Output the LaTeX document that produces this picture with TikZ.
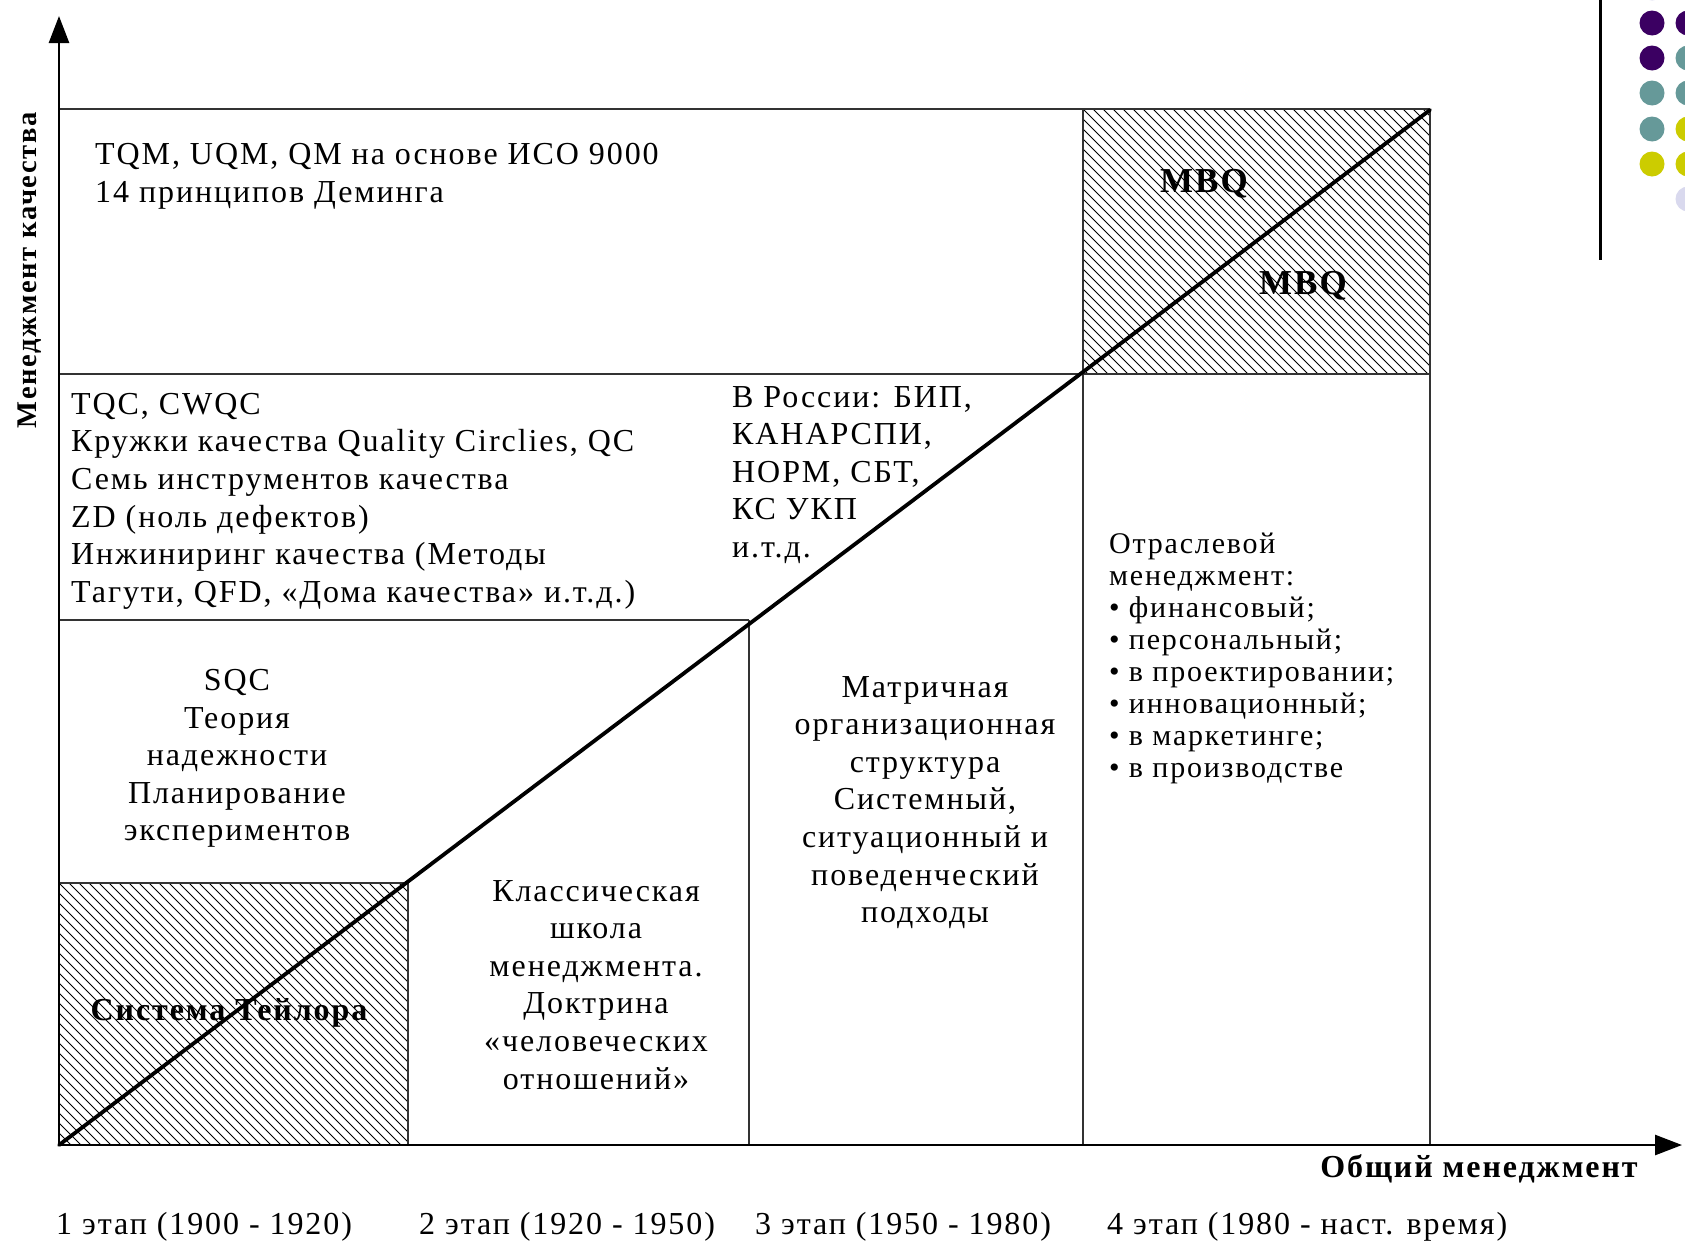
\documentclass[tikz,border=0pt]{standalone}
\usepackage{fontspec}
\setmainfont{Liberation Serif}[LetterSpace=6]
\usetikzlibrary{arrows.meta}
\definecolor{dpurple}{HTML}{3B0062}
\definecolor{dteal}{HTML}{669999}
\definecolor{dyellow}{HTML}{CCCC00}
\definecolor{dlav}{HTML}{D9D9EE}
\definecolor{gridc}{HTML}{333333}
\begin{document}
\begin{tikzpicture}[x=1pt,y=-1pt,
  txt/.style={inner sep=0pt,font=\fontsize{32}{37.6}\selectfont},
  smalltxt/.style={inner sep=0pt,font=\fontsize{30}{32}\selectfont},
  boldtxt/.style={inner sep=0pt,font=\fontsize{32}{38}\selectfont\bfseries},
  ylab/.style={inner sep=0pt,font=\fontsize{28.5}{34}\selectfont\bfseries},
  mbq/.style={inner sep=0pt,font=\fontsize{35}{40}\selectfont\bfseries},
  gridline/.style={draw=gridc,line width=2pt},
  axisline/.style={draw=black,line width=2.6pt,-{Triangle[length=27pt,width=20pt]}},
  hatch/.style={draw=black,line width=1pt},
  diag/.style={draw=black,line width=3.8pt,line cap=round}
]
\useasboundingbox (0,0) rectangle (1685,1248);
\fill[white] (0,0) rectangle (1685,1248);

% hatched areas
\begin{scope}
  \clip (59,883) rectangle (408,1145);
  \foreach \i in {-280,-270,...,360} \draw[hatch] (59+\i,883) -- ++(262,262);
\end{scope}
\begin{scope}
  \clip (1083,109) rectangle (1430,374);
  \foreach \i in {-280,-270,...,360} \draw[hatch] (1083+\i,109) -- ++(265,265);
\end{scope}

% grid
\coordinate (o) at (59,1145);
\draw[gridline] (59,109) -- (1430,109);
\draw[gridline] (59,374) -- (1430,374);
\draw[gridline] (59,620) -- (749,620);
\draw[gridline] (59,883) -- (408,883);
\draw[gridline] (408,883) -- (408,1145);
\draw[gridline] (749,620) -- (749,1145);
\draw[gridline] (1083,109) -- (1083,1145);
\draw[gridline] (1430,109) -- (1430,1145);

% axes
\coordinate (ytip) at (59,16);
\coordinate (xtip) at (1682,1145);
\draw[axisline] (o) -- (ytip);
\draw[axisline] (o) -- (xtip);

% diagonal
\coordinate (dend) at (1430,110);
\draw[diag] (o) -- (dend);

% texts
\node[txt,anchor=north west,align=left] (qm) at (95,143)
  {TQM, UQM, QM на основе ИСО 9000\\14 принципов Деминга};
\node[txt,anchor=north west,align=left] (tqc) at (71,393)
  {TQC, CWQC\\Кружки качества Quality Circlies, QC\\Семь инструментов качества\\ZD (ноль дефектов)\\Инжиниринг качества (Методы\\Тагути, QFD, «Дома качества» и.т.д.)};
\node[txt,anchor=north west,align=left] (rus) at (732,386)
  {В России: БИП,\\КАНАРСПИ,\\НОРМ, СБТ,\\КС УКП\\и.т.д.};
\node[txt,anchor=north,align=center] (sqc) at (237,669)
  {SQC\\Теория\\надежности\\Планирование\\экспериментов};
\node[txt,anchor=north,align=center] (klass) at (596,880)
  {Классическая\\школа\\менеджмента.\\Доктрина\\«человеческих\\отношений»};
\node[txt,anchor=north,align=center] (matr) at (925,676)
  {Матричная\\организационная\\структура\\Системный,\\ситуационный и\\поведенческий\\подходы};
\node[smalltxt,anchor=north west,align=left] (otr) at (1109,533)
  {Отраслевой\\менеджмент:\\• финансовый;\\• персональный;\\• в проектировании;\\• инновационный;\\• в маркетинге;\\• в производстве};
\node[mbq] (mbq1) at (1204,184) {MBQ};
\node[mbq] (mbq2) at (1303,286) {MBQ};
\node[boldtxt] (taylor) at (229,1013) {Система Тейлора};
\node[boldtxt] (gen) at (1479,1169) {Общий менеджмент};
\node[ylab,rotate=90] (qual) at (30,270) {Менеджмент качества};
\node[txt,anchor=base west] (st1) at (56,1234) {1 этап (1900 - 1920)};
\node[txt,anchor=base west] (st2) at (419,1234) {2 этап (1920 - 1950)};
\node[txt,anchor=base west] (st3) at (755,1234) {3 этап (1950 - 1980)};
\node[txt,anchor=base west] (st4) at (1107,1234) {4 этап (1980 - наст. время)};

% decoration top right
\draw[black,line width=3pt] (1600,0) -- (1600,260);
\fill[dlav] (1652,-12) circle (12.5);
\fill[dpurple] (1652,23) circle (12.5);
\fill[dpurple] (1652,58) circle (12.5);
\fill[dteal] (1652,93) circle (12.5);
\fill[dteal] (1652,129) circle (12.5);
\fill[dyellow] (1652,164) circle (12.5);
\fill[dpurple] (1688,23) circle (12.5);
\fill[dteal] (1688,58) circle (12.5);
\fill[dteal] (1688,93) circle (12.5);
\fill[dyellow] (1688,129) circle (12.5);
\fill[dyellow] (1688,164) circle (12.5);
\fill[dlav] (1688,199) circle (12.5);
\end{tikzpicture}
\end{document}
